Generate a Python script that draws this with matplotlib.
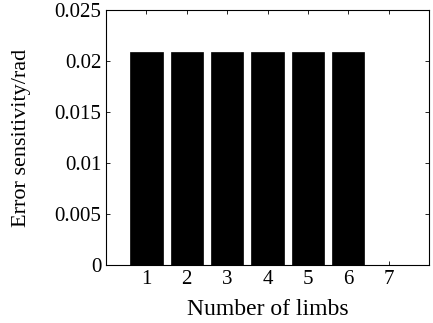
import numpy as np
import matplotlib.pyplot as plt

limbs = [1, 2, 3, 4, 5, 6, 7]
sensitivity = [0.0209, 0.0209, 0.0209, 0.0209, 0.0209, 0.0209, 0.0]

plt.rcParams['font.family'] = ['Liberation Serif', 'DejaVu Serif']

fig = plt.figure(figsize=(4.33, 3.23), dpi=100)
ax = fig.add_axes([106 / 433, 1 - 265 / 323, (429 - 106) / 433, (265 - 10) / 323])

ax.bar(limbs, sensitivity, width=0.8, color='black', edgecolor='black', linewidth=0.5)

ax.set_xlim(0, 8)
ax.set_ylim(0, 0.025)
ax.set_xticks(limbs)
ax.set_yticks([0, 0.005, 0.01, 0.015, 0.02, 0.025])
ax.set_yticklabels(['0', '0.005', '0.01', '0.015', '0.02', '0.025'])
ax.tick_params(direction='in', top=True, right=True, labelsize=15, length=3, width=0.6)
for s in ax.spines.values():
    s.set_linewidth(0.8)

ax.set_xlabel('Number of limbs', fontsize=17, labelpad=7)
ax.set_ylabel('Error sensitivity/rad', fontsize=16, labelpad=17)

fig.savefig('out.png', dpi=100)
